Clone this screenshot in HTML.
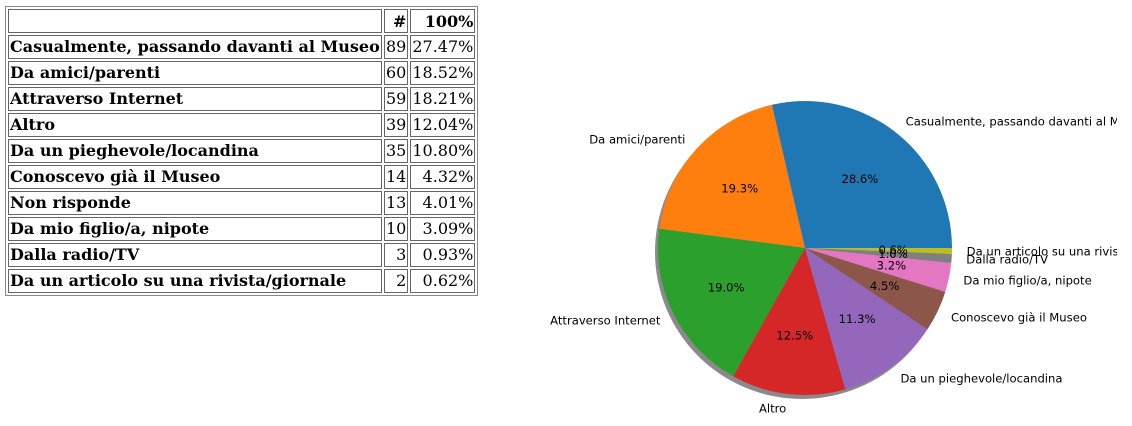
<!DOCTYPE html>
<html><head><meta charset="utf-8"><style>
html,body{margin:0;padding:0;background:#fff;width:1132px;height:426px;overflow:hidden;position:relative}
table{position:absolute;left:5px;top:6px;border:1px solid #888;border-spacing:2px;font-family:"DejaVu Serif","Liberation Serif",serif;font-size:16px;table-layout:fixed}
td{border:1px solid #666;height:22px;padding:0 1px;white-space:nowrap;overflow:hidden;line-height:22px}
td.l{font-weight:bold;width:370px}
td.n{text-align:right;width:20px}
td.p{text-align:right;width:61px}
th{border:1px solid #666;height:22px;padding:0 1px;text-align:right;font-weight:bold}
svg{position:absolute;left:0;top:0}
</style></head><body>
<table>
<tr><th style="width:370px"></th><th>#</th><th>100%</th></tr>
<tr><td class="l">Casualmente, passando davanti al Museo</td><td class="n">89</td><td class="p">27.47%</td></tr>
<tr><td class="l">Da amici/parenti</td><td class="n">60</td><td class="p">18.52%</td></tr>
<tr><td class="l">Attraverso Internet</td><td class="n">59</td><td class="p">18.21%</td></tr>
<tr><td class="l">Altro</td><td class="n">39</td><td class="p">12.04%</td></tr>
<tr><td class="l">Da un pieghevole/locandina</td><td class="n">35</td><td class="p">10.80%</td></tr>
<tr><td class="l">Conoscevo già il Museo</td><td class="n">14</td><td class="p">4.32%</td></tr>
<tr><td class="l">Non risponde</td><td class="n">13</td><td class="p">4.01%</td></tr>
<tr><td class="l">Da mio figlio/a, nipote</td><td class="n">10</td><td class="p">3.09%</td></tr>
<tr><td class="l">Dalla radio/TV</td><td class="n">3</td><td class="p">0.93%</td></tr>
<tr><td class="l">Da un articolo su una rivista/giornale</td><td class="n">2</td><td class="p">0.62%</td></tr>
</table>
<svg id="pie" width="1132" height="426">
<defs><clipPath id="cp"><rect x="0" y="0" width="1117" height="426"/></clipPath></defs>
<g id="g" clip-path="url(#cp)"></g>
</svg>
<script>
const categories=["Casualmente, passando davanti al Museo","Da amici/parenti","Attraverso Internet","Altro","Da un pieghevole/locandina","Conoscevo già il Museo","Da mio figlio/a, nipote","Dalla radio/TV","Da un articolo su una rivista/giornale"];
const values=[89,60,59,39,35,14,10,3,2];
const colors=["#1f77b4","#ff7f0e","#2ca02c","#d62728","#9467bd","#8c564b","#e377c2","#7f7f7f","#bcbd22"];
const cx=805,cy=248,R=147;
const g=document.getElementById('g');
const NS="http://www.w3.org/2000/svg";
const total=values.reduce((a,b)=>a+b,0);
function pt(a,r){return [cx+r*Math.cos(a),cy-r*Math.sin(a)];}
const sh=document.createElementNS(NS,'circle');


sh.setAttribute('cx',cx-3);sh.setAttribute('cy',cy+4);sh.setAttribute('r',R);sh.setAttribute('fill','#8a8a8a');
g.appendChild(sh);
let a0=0;const texts=[];
values.forEach((v,i)=>{
  const a1=a0+v/total*2*Math.PI;
  const p0=pt(a0,R),p1=pt(a1,R);
  const large=(a1-a0)>Math.PI?1:0;
  const p=document.createElementNS(NS,'path');
  
  
  p.setAttribute('d',`M${cx},${cy}L${p0[0]},${p0[1]}A${R},${R} 0 ${large} 0 ${p1[0]},${p1[1]}Z`);
  p.setAttribute('fill',colors[i]);
  g.appendChild(p);
  const m=(a0+a1)/2;
  const lp=pt(m,R*1.1);
  const t=document.createElementNS(NS,'text');
  
  
  t.setAttribute('x',lp[0]);t.setAttribute('y',lp[1]+4);
  t.setAttribute('text-anchor',Math.cos(m)>=0?'start':'end');
  t.setAttribute('font-family','DejaVu Sans, Liberation Sans, sans-serif');
  t.setAttribute('font-size','11.6');
  t.textContent=categories[i];
  texts.push(t);
  const pp=pt(m,R*0.6);
  const q=document.createElementNS(NS,'text');
  
  
  q.setAttribute('x',pp[0]);q.setAttribute('y',pp[1]+4);
  q.setAttribute('text-anchor','middle');
  q.setAttribute('font-family','DejaVu Sans, Liberation Sans, sans-serif');
  q.setAttribute('font-size','11.6');
  q.textContent=(v/total*100).toFixed(1)+'%';
  texts.push(q);
  a0=a1;
});
texts.forEach(t=>g.appendChild(t));
</script>
</body></html>
